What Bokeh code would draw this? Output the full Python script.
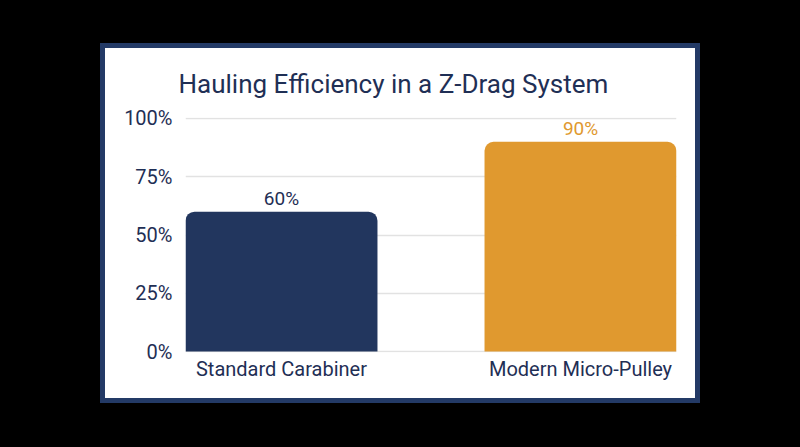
from bokeh.plotting import figure
from bokeh.models import (ColumnDataSource, Range1d, FixedTicker, LabelSet, Title)
from bokeh.embed import file_html
from bokeh.resources import INLINE
from bokeh.core.properties import value

title_text = "Hauling Efficiency in a Z-Drag System"
categories = ["Standard Carabiner", "Modern Micro-Pulley"]
efficiency = [60, 90]
bar_colors = ["#22365e", "#e0992f"]
label_colors = ["#1f2f55", "#e0992f"]
y_ticks = [0, 25, 50, 75, 100]

FONT = "Roboto"
TEXT = "#1f2f55"

xpos = [i + 0.5 for i in range(len(categories))]
source = ColumnDataSource(dict(
    x=xpos, top=efficiency, color=bar_colors, lcolor=label_colors,
    label=[f"{v}%" for v in efficiency],
))

p = figure(width=590, height=350, output_backend="svg", toolbar_location=None,
           x_range=Range1d(0.179, 1.821), y_range=Range1d(-0.4, 100.4),
           min_border_left=80, min_border_right=19, min_border_top=66,
           min_border_bottom=46)
p.styles = {"outline": "5px solid #233a66", "background-color": "#ffffff"}
p.background_fill_color = "white"
p.border_fill_color = "white"
p.outline_line_color = None

p.title = Title(text=title_text, align="left", offset=-7, text_font=FONT,
                text_font_size="26px", text_font_style="normal",
                text_color=TEXT, standoff=37, text_line_height=0.9)

p.vbar(x="x", top="top", bottom=0, width=0.642, source=source,
       fill_color="color", line_color=None, border_radius=(9, 9, 0, 0))

labels = LabelSet(x="x", y="top", text="label", source=source,
                  text_align="center", text_baseline="alphabetic", y_offset=7,
                  text_font=value(FONT), text_font_size="19px",
                  text_color="lcolor")
p.add_layout(labels)

p.xaxis.ticker = FixedTicker(ticks=xpos)
p.xaxis.major_label_overrides = {x: c for x, c in zip(xpos, categories)}
p.yaxis.ticker = FixedTicker(ticks=y_ticks)
p.yaxis.major_label_overrides = {t: f"{t}%" for t in y_ticks}

for ax in (p.xaxis, p.yaxis):
    ax.axis_line_color = None
    ax.major_tick_line_color = None
    ax.minor_tick_line_color = None
    ax.major_label_text_font = FONT
    ax.major_label_text_font_size = "20px"
    ax.major_label_text_color = TEXT
p.xaxis.major_label_standoff = -2
p.yaxis.major_label_standoff = 7

p.xgrid.grid_line_color = None
p.ygrid.grid_line_color = "#e2e2e2"
p.ygrid.grid_line_width = 1.5

html = file_html(p, INLINE, title="Hauling Efficiency")
css = ("<style>html,body{background-color:#000000 !important;margin:0 !important;}"
       "body{padding:48px 0 0 105px !important;}</style></head>")
html = html.replace("</head>", css, 1)
open("out.html", "w").write(html)
